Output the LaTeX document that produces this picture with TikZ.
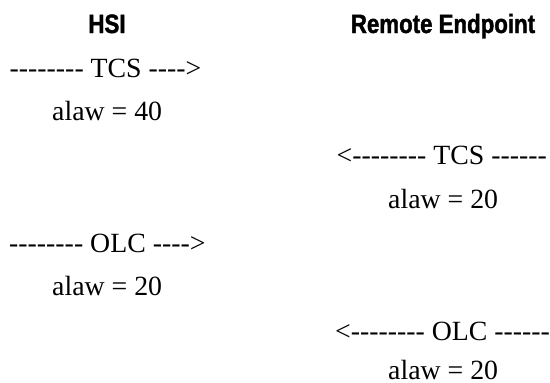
\documentclass[tikz,border=0pt]{standalone}
\usepackage{fontspec}
% plain hyphens must stay hyphens, so no TeX dash ligatures
\setmainfont{Liberation Serif}[Ligatures=TeXOff]
\newfontfamily\headfont[FakeStretch=0.84,FakeBold=1.5]{Liberation Sans}
\begin{document}
\begin{tikzpicture}[x=1pt,y=1pt,
  headtxt/.style={inner sep=0pt,anchor=base,font=\headfont\bfseries\fontsize{26.5}{30}\selectfont},
  msgtxt/.style={inner sep=0pt,anchor=base west,font=\fontsize{27.8}{32}\selectfont}]
\useasboundingbox (0,0) rectangle (550,-383);
% column headings
\node[headtxt] (hsi) at (107,-33) {HSI};
\node[headtxt] (remote) at (443,-33) {Remote Endpoint};
% message exchange, one line per message
\node[msgtxt] (tcsA) at (9.5,-77) {-------- TCS ---->};
\node[msgtxt] (alawA) at (52,-120.6) {alaw = 40};
\node[msgtxt] (tcsB) at (336.5,-164) {<-------- TCS ------};
\node[msgtxt] (alawB) at (388,-208) {alaw = 20};
\node[msgtxt] (olcA) at (9,-252) {-------- OLC ---->};
\node[msgtxt] (alawC) at (52,-295) {alaw = 20};
\node[msgtxt] (olcB) at (335,-340) {<-------- OLC ------};
\node[msgtxt] (alawD) at (388,-379.5) {alaw = 20};
\end{tikzpicture}
\end{document}
